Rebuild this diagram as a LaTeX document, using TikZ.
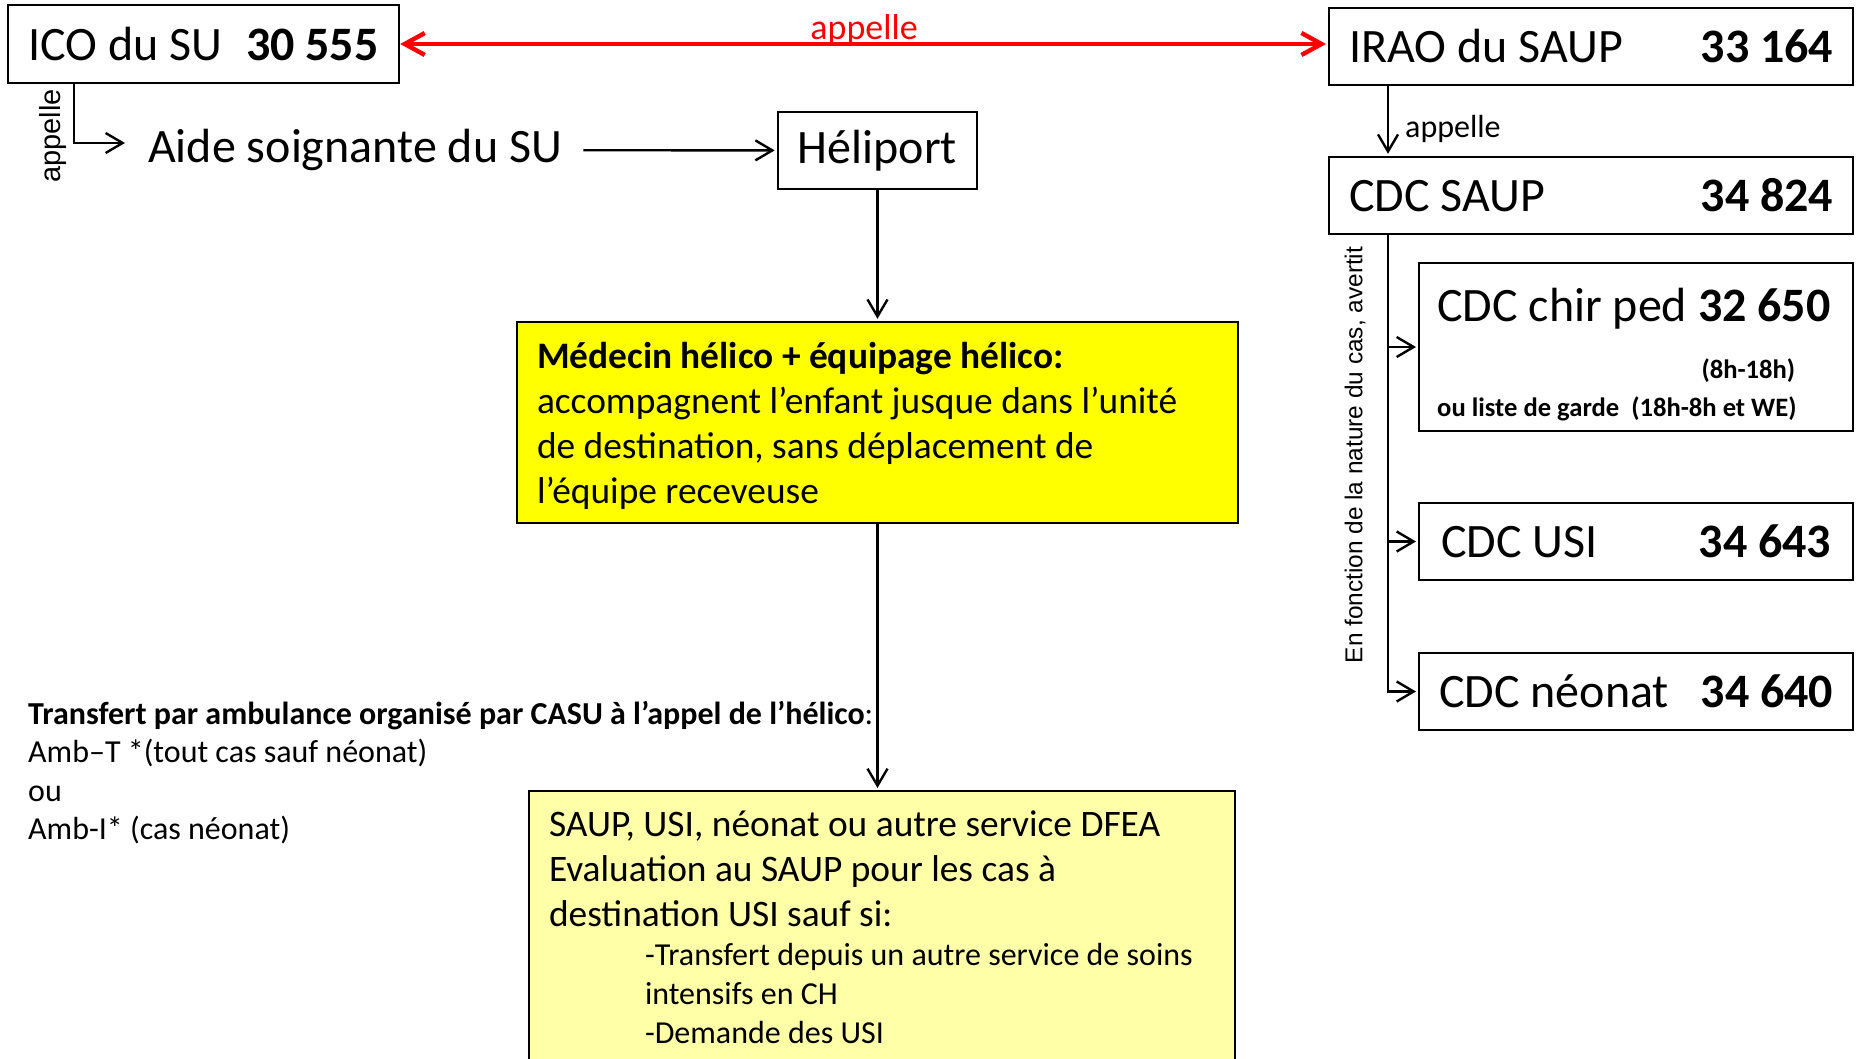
\documentclass[tikz,border=0pt]{standalone}
\usepackage{fontspec}
\setmainfont{Carlito}
\newfontfamily\arialfont{Liberation Sans}
\usepackage{tikz}
\usetikzlibrary{arrows.meta}
\usepackage{color}
\setlength{\parindent}{0pt}
\frenchspacing
\definecolor{heliyellow}{RGB}{255,255,0}
\definecolor{paleyellow}{RGB}{255,255,168}
\definecolor{callred}{RGB}{255,0,0}

\begin{document}
\begin{tikzpicture}[x=0.5pt,y=-0.5pt,->,>={Straight Barb[length=8.5pt,width=10pt]},shorten >=1pt,line width=1.2pt,
  execute at begin node={\spaceskip=0pt\xspaceskip=0pt},
  phone box/.style={draw,rectangle,inner xsep=10pt,inner ysep=0pt,minimum height=38.5pt,
    align=left,font=\fontsize{24}{28}\selectfont},
  side label/.style={font=\arialfont\fontsize{#1}{15}\selectfont,rotate=90}]

  \path[use as bounding box,fill=white] (0,0) rectangle (1856,1059);
  \clip (0,0) rectangle (1856,1059);

  % urgences
  \node[phone box,minimum width=195.5pt,minimum height=39pt,align=center] (ico) at (203.5,44) {ICO du SU~\hspace{1pt} \textbf{30 555}};
  \node[font=\fontsize{24}{28}\selectfont,inner sep=10pt,anchor=west] (aide) at (127,150) {Aide soignante du SU};
  \node[phone box,minimum width=99.5pt,align=center] (heli) at (877.5,150.5) {Héliport};
  \node[side label=14.5] (appelleSU) at (53,136) {appelle};

  % SAUP
  \node[phone box,text width=242pt,anchor=west] (irao) at (1328,46.5) {IRAO du SAUP\hfill\textbf{33 164}};
  \node[phone box,text width=242pt,anchor=west] (saup) at (1328,195.5) {CDC SAUP\hfill\textbf{34 824}};
  \node[phone box,text width=199pt,inner xsep=9pt,minimum height=84pt,anchor=west] (chir) at (1418,347)
    {\rule{0pt}{24pt}CDC chir ped \textbf{32 650}\par\vspace{9.3pt}
     {\fontsize{13.3}{19}\selectfont\bfseries\hfill(8h-18h)\hspace*{20pt}\mbox{}\\
      ou liste de garde~ (18h-8h et WE)\par}};
  \node[phone box,text width=195pt,minimum width=217pt,anchor=west] (usi) at (1418,541.5) {CDC USI\hfill\textbf{34 643}};
  \node[phone box,text width=197pt,anchor=west] (neo) at (1418,691.5) {CDC néonat\hfill\textbf{34 640}};
  \node[side label=12.2] (natureCas) at (1355,455) {En fonction de la nature du cas, avertit};

  % helico
  \node[draw,fill=heliyellow,text width=340.5pt,inner xsep=10pt,minimum height=100.5pt,align=left,
    font=\fontsize{18.7}{22.5}\selectfont] (medic) at (877.5,422.5)
    {\rule{0pt}{17pt}\textbf{Médecin hélico + équipage hélico:}\\
     accompagnent l’enfant jusque dans l’unité\\
     de destination, sans déplacement de\\
     l’équipe receveuse};
  \node[draw,fill=paleyellow,text width=333pt,inner xsep=10pt,inner ysep=10pt,anchor=north,align=left,
    font=\fontsize{18.7}{22.5}\selectfont] (dest) at (882,790)
    {SAUP, USI, néonat ou autre service DFEA\\
     Evaluation au SAUP pour les cas à\\
     destination USI sauf si:\par
     {\fontsize{16}{19.5}\selectfont
      \hspace*{48pt}-Transfert depuis un autre service de soins\\
      \hspace*{48pt}intensifs en CH\\
      \hspace*{48pt}-Demande des USI\par}};
  \node[align=left,font=\fontsize{16}{19.25}\selectfont,anchor=north west,inner sep=0pt] (casu) at (27,700)
    {\textbf{Transfert par ambulance organisé par CASU à l’appel de l’hélico}:\\
     Amb–T *(tout cas sauf néonat)\\
     ou\\
     Amb-I* (cas néonat)};

  \draw[<->,>={Straight Barb[length=10pt,width=11pt]},callred,line width=2.2pt] (ico.east) -- (ico.east -| irao.west)
    node[midway,above,inner sep=1pt,yshift=-3pt,font=\fontsize{18}{22}\selectfont] (callTop) {appelle};
  \draw ([xshift=33.5pt]ico.south west) |- ([yshift=3.5pt]aide.west);
  \draw (aide) -- (heli);
  \draw (heli) -- (medic);
  \draw (medic.south) -- (medic.south |- dest.north);

  \draw ([xshift=30pt]irao.south west) -- ([xshift=30pt]saup.north west)
    node[pos=0.62,right,inner xsep=8pt,font=\fontsize{16}{19}\selectfont] (callDown) {appelle};
  \coordinate (trunk) at ([xshift=30pt]saup.south west);
  \draw (trunk) |- (chir.west);
  \draw (trunk) |- (usi.west);
  \draw (trunk) |- (neo.west);
\end{tikzpicture}
\end{document}
